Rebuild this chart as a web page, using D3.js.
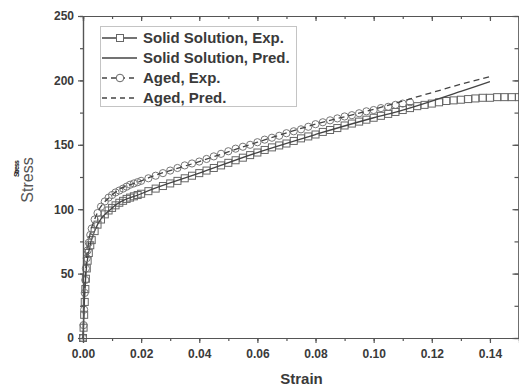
<!DOCTYPE html>
<html>

<head>
    <meta charset="utf-8">
    <script src="https://d3js.org/d3.v7.min.js"></script>
    <style>
        body { margin: 0; background: #fff; }
        text { font-family: Arial, "Liberation Sans", sans-serif; }
    </style>
</head>
<body>
    <script>
        // strain / stress readings, solid solution experiment
        let ssStrain = [0, 0.0002, 0.0004, 0.0006, 0.0008, 0.001, 0.0013, 0.0016, 0.002, 0.0025, 0.003, 0.004, 0.005, 0.0062, 0.0075, 0.0088,
            0.01, 0.0112, 0.0125, 0.0138, 0.015, 0.0162, 0.0175, 0.0188, 0.02, 0.0225, 0.025, 0.0275, 0.03, 0.0325, 0.035, 0.0375, 0.04, 0.0425, 0.045, 0.0475,
            0.05, 0.0525, 0.055, 0.0575, 0.06, 0.0625, 0.065, 0.0675, 0.07, 0.0725, 0.075, 0.0775, 0.08, 0.0825, 0.085, 0.0875,
            0.09, 0.0925, 0.095, 0.0975, 0.1, 0.1025, 0.105, 0.1075, 0.11, 0.1125, 0.115, 0.1175, 0.12, 0.1225, 0.125, 0.1275,
            0.13, 0.1325, 0.135, 0.1375, 0.14, 0.1425, 0.145, 0.1475, 0.15];
        let ssStress = [0, 8, 18, 28, 38, 46, 54, 60, 66, 72, 76, 83, 88, 92, 96, 99,
            101, 103, 105, 106.5, 108, 109, 110, 111, 112, 114, 116, 118, 120, 122, 124, 126, 128, 130, 132, 134,
            136, 138, 140, 142, 144, 146, 148, 149.5, 151, 153, 155, 156.5, 158, 160, 161.5, 163,
            165, 166.5, 168, 169.5, 171, 172.5, 174, 175.5, 177, 178.5, 180, 181, 182, 183, 184, 184.5,
            185, 185.5, 186, 186.5, 186.5, 187, 187, 187, 187];

        // aged experiment
        let agStrain = [0, 0.0002, 0.0004, 0.0006, 0.0008, 0.001, 0.0013, 0.0016, 0.002, 0.0025, 0.003, 0.004, 0.005, 0.0062, 0.0075, 0.0088,
            0.01, 0.0112, 0.0125, 0.0138, 0.015, 0.0162, 0.0175, 0.0188, 0.02, 0.0225, 0.025, 0.0275, 0.03, 0.0325, 0.035, 0.0375, 0.04, 0.0425, 0.045, 0.0475,
            0.05, 0.0525, 0.055, 0.0575, 0.06, 0.0625, 0.065, 0.0675, 0.07, 0.0725, 0.075, 0.0775, 0.08, 0.0825, 0.085, 0.0875,
            0.09, 0.0925, 0.095, 0.0975, 0.1, 0.1025, 0.105, 0.1075, 0.11, 0.1125];
        let agStress = [0, 10, 22, 35, 45, 54, 62, 68, 74, 80, 85, 92, 97, 102, 106, 109,
            111, 113, 114.5, 116, 117.5, 119, 120, 121, 122, 124, 126, 128, 130, 132, 134, 135.5, 137, 139, 141, 143,
            145, 147, 148.5, 150, 152, 154, 155.5, 157, 159, 160.5, 162, 164, 166, 167.5, 169, 170.5,
            172, 173, 174.5, 176, 177, 178.5, 179.5, 181, 182, 183];

        // predictions
        let ssPredStrain = [0, 0.0005, 0.001, 0.002, 0.004, 0.01, 0.02, 0.04, 0.06, 0.08, 0.1, 0.11, 0.12, 0.13, 0.14];
        let ssPredStress = [0, 30, 50, 67, 83, 101, 112, 128, 144, 158, 171, 177, 184, 191.5, 199];
        let agPredStrain = [0, 0.0005, 0.001, 0.002, 0.004, 0.01, 0.02, 0.04, 0.06, 0.08, 0.1, 0.11, 0.12, 0.13, 0.14];
        let agPredStress = [0, 33, 55, 75, 92, 111, 122, 137, 152, 166, 177.5, 184, 190.5, 197, 203];

        let xTicks = [0, 0.02, 0.04, 0.06, 0.08, 0.10, 0.12, 0.14];
        let yTicks = [0, 50, 100, 150, 200, 250];
        let legendLabels = ["Solid Solution, Exp.", "Solid Solution, Pred.", "Aged, Exp.", "Aged, Pred."];

        let width = 519, height = 386;
        let svg = d3.select("body").append("svg")
            .attr("width", width)
            .attr("height", height);

        let x = d3.scaleLinear().domain([0, 0.15]).range([83, 519]);
        let y = d3.scaleLinear().domain([0, 250]).range([338, 16]);

        let axisColor = "#555", textColor = "#3a3a3a";

        let zip = (a, b) => a.map((v, i) => [v, b[i]]);
        let line = d3.line().x(d => x(d[0])).y(d => y(d[1])).curve(d3.curveMonotoneX);

        // data
        let plot = svg.append("g");
        plot.selectAll("rect.sq")
            .data(zip(ssStrain, ssStress))
            .join("rect")
                .attr("class", "sq")
                .attr("x", d => x(d[0]) - 3.5)
                .attr("y", d => y(d[1]) - 3.5)
                .attr("width", 7).attr("height", 7)
                .attr("fill", "none").attr("stroke", "#666").attr("stroke-width", 1);
        plot.append("path")
            .attr("d", line(zip(ssPredStrain, ssPredStress)))
            .attr("fill", "none").attr("stroke", "#444").attr("stroke-width", 1.3);
        plot.selectAll("circle.ci")
            .data(zip(agStrain, agStress))
            .join("circle")
                .attr("class", "ci")
                .attr("cx", d => x(d[0]))
                .attr("cy", d => y(d[1]))
                .attr("r", 3.6)
                .attr("fill", "none").attr("stroke", "#777").attr("stroke-width", 1);
        plot.append("path")
            .attr("d", line(zip(agPredStrain, agPredStress)))
            .attr("fill", "none").attr("stroke", "#444").attr("stroke-width", 1.3)
            .attr("stroke-dasharray", "6,4");

        // axes
        let minorX = d3.range(0, 0.1501, 0.01);
        let minorY = d3.range(0, 251, 25);
        let fmt = d3.format(".2f");

        let axBottom = svg.append("g").attr("transform", "translate(0,338)")
            .call(d3.axisBottom(x).tickValues(minorX).tickSize(3).tickFormat(""));
        let axBottomMajor = svg.append("g").attr("transform", "translate(0,338)")
            .call(d3.axisBottom(x).tickValues(xTicks).tickSize(5).tickPadding(6).tickFormat(fmt));
        let axTop = svg.append("g").attr("transform", "translate(0,16)")
            .call(d3.axisBottom(x).tickValues(minorX).tickSize(3).tickFormat(""));
        let axTopMajor = svg.append("g").attr("transform", "translate(0,16)")
            .call(d3.axisBottom(x).tickValues(xTicks).tickSize(5).tickFormat(""));
        let axLeft = svg.append("g").attr("transform", "translate(83,0)")
            .call(d3.axisLeft(y).tickValues(minorY).tickSize(3).tickFormat(""));
        let axLeftMajor = svg.append("g").attr("transform", "translate(83,0)")
            .call(d3.axisLeft(y).tickValues(yTicks).tickSize(5).tickPadding(4));
        let axRight = svg.append("g").attr("transform", "translate(518.5,0)")
            .call(d3.axisRight(y).tickValues(minorY).tickSize(-4).tickFormat(""));
        let axRightMajor = svg.append("g").attr("transform", "translate(518.5,0)")
            .call(d3.axisRight(y).tickValues(yTicks).tickSize(-6).tickFormat(""));

        [axBottom, axBottomMajor, axTop, axTopMajor, axLeft, axLeftMajor, axRight, axRightMajor].forEach(g => {
            g.select(".domain").attr("stroke", axisColor).attr("stroke-width", 1.2);
            g.selectAll(".tick line").attr("stroke", axisColor).attr("stroke-width", 1.2);
            g.selectAll(".tick text")
                .attr("fill", textColor)
                .style("font-size", "12px")
                .style("font-weight", "bold");
        });

        // axis titles
        svg.append("text")
            .attr("x", 301.5).attr("y", 384)
            .attr("text-anchor", "middle")
            .style("font-size", "15px").style("font-weight", "bold")
            .attr("fill", textColor)
            .text("Strain");
        svg.append("text")
            .attr("transform", "translate(33,180) rotate(-90)")
            .attr("text-anchor", "middle")
            .style("font-size", "16px")
            .attr("fill", "#555")
            .text("Stress");
        svg.append("text")
            .attr("transform", "translate(18.5,168.5) rotate(-90)")
            .attr("text-anchor", "middle")
            .attr("textLength", 17)
            .style("font-size", "7px").style("font-weight", "bold")
            .attr("fill", "#111")
            .text("Stress");

        // legend
        let legend = svg.append("g");
        legend.append("rect")
            .attr("x", 100.5).attr("y", 26.5)
            .attr("width", 196).attr("height", 80)
            .attr("fill", "#fff")
            .attr("stroke", "#888").attr("stroke-width", 1)
            .attr("stroke-dasharray", "1,1");
        let rows = legend.selectAll("g.row")
            .data(legendLabels)
            .join("g")
                .attr("class", "row")
                .attr("transform", (d, i) => `translate(0,${38 + i * 20})`);
        rows.append("line")
            .attr("x1", 102).attr("x2", 137)
            .attr("stroke", "#444").attr("stroke-width", 1.3)
            .attr("stroke-dasharray", (d, i) => i >= 2 ? "5,4" : null);
        rows.filter((d, i) => i === 0).append("rect")
            .attr("x", 116.5).attr("y", -3.5).attr("width", 7).attr("height", 7)
            .attr("fill", "#fff").attr("stroke", "#666");
        rows.filter((d, i) => i === 2).append("circle")
            .attr("cx", 120).attr("r", 3.8)
            .attr("fill", "#fff").attr("stroke", "#666");
        rows.append("text")
            .attr("x", 143).attr("y", 5)
            .style("font-size", "15px").style("font-weight", "bold")
            .attr("fill", textColor)
            .text(d => d);
    </script>
</body>
</html>
